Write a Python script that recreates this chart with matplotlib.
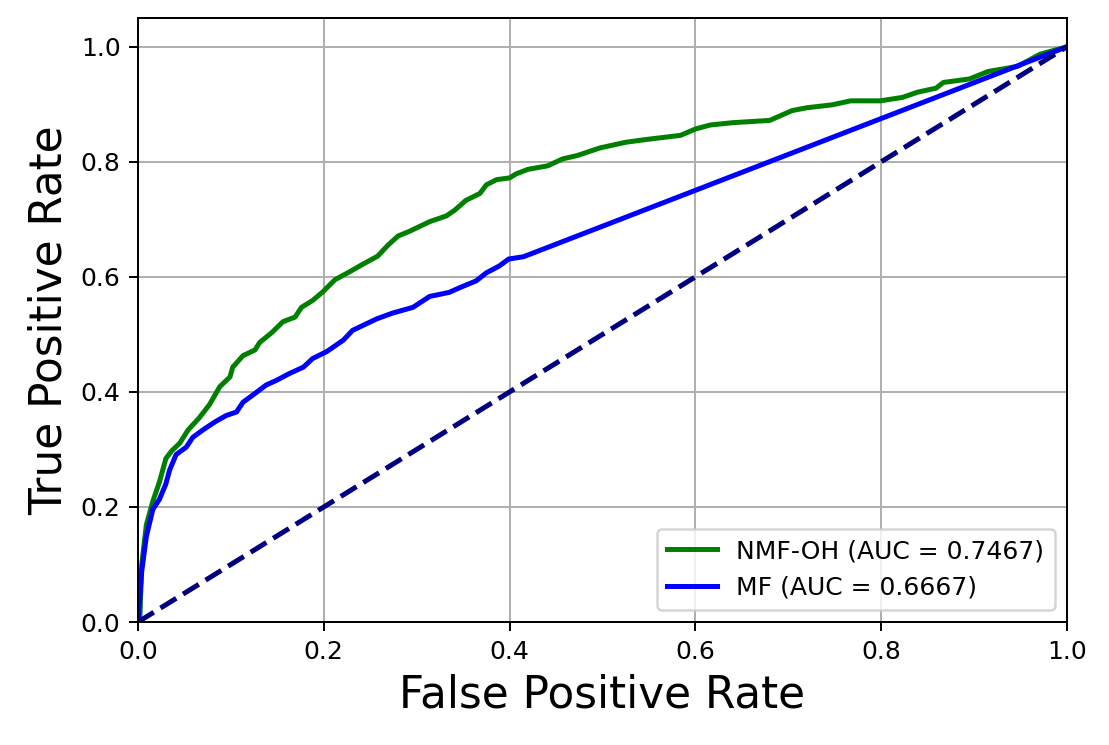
import numpy as np
import matplotlib
matplotlib.use("Agg")
import matplotlib.pyplot as plt

############################################################ DATA
# NMF-OH roc curve
fpr_nmf = [0.0, 0.002, 0.004, 0.009, 0.016, 0.023, 0.030, 0.036, 0.045, 0.054, 0.066,
           0.077, 0.088, 0.099, 0.102, 0.113, 0.126, 0.131, 0.144, 0.156, 0.169, 0.176,
           0.188, 0.199, 0.212, 0.228, 0.242, 0.258, 0.269, 0.280, 0.292, 0.314, 0.332,
           0.341, 0.353, 0.368, 0.375, 0.386, 0.400, 0.407, 0.420, 0.441, 0.457, 0.473,
           0.497, 0.525, 0.548, 0.584, 0.600, 0.616, 0.640, 0.680, 0.704, 0.720, 0.747,
           0.767, 0.799, 0.823, 0.839, 0.859, 0.867, 0.895, 0.915, 0.947, 0.971, 1.0]
tpr_nmf = [0.0, 0.007, 0.100, 0.169, 0.210, 0.243, 0.284, 0.297, 0.311, 0.334, 0.355,
           0.378, 0.409, 0.426, 0.443, 0.463, 0.473, 0.486, 0.503, 0.522, 0.530, 0.547,
           0.559, 0.574, 0.595, 0.609, 0.622, 0.636, 0.655, 0.671, 0.679, 0.696, 0.706,
           0.716, 0.733, 0.745, 0.760, 0.769, 0.772, 0.779, 0.787, 0.793, 0.805, 0.811,
           0.824, 0.834, 0.839, 0.846, 0.857, 0.864, 0.868, 0.872, 0.889, 0.894, 0.899,
           0.906, 0.906, 0.912, 0.921, 0.928, 0.938, 0.944, 0.957, 0.966, 0.987, 1.0]
# MF roc curve
fpr_mf = [0.0, 0.004, 0.009, 0.016, 0.023, 0.030, 0.034, 0.041, 0.052, 0.059, 0.070,
          0.083, 0.095, 0.106, 0.113, 0.124, 0.138, 0.149, 0.163, 0.178, 0.188, 0.203,
          0.213, 0.221, 0.231, 0.257, 0.274, 0.296, 0.314, 0.335, 0.346, 0.364, 0.375,
          0.389, 0.399, 0.415, 1.0]
tpr_mf = [0.0, 0.088, 0.149, 0.196, 0.213, 0.240, 0.264, 0.291, 0.304, 0.321, 0.334,
          0.348, 0.359, 0.365, 0.382, 0.395, 0.412, 0.420, 0.432, 0.443, 0.458, 0.470,
          0.481, 0.490, 0.507, 0.527, 0.537, 0.547, 0.566, 0.573, 0.581, 0.593, 0.607,
          0.619, 0.631, 0.635, 1.0]
auc_nmf = 0.7467
auc_mf = 0.6667
chance = [0, 1]

############################################################ PLOT
W, H, DPI = 1109, 745, 180
fig = plt.figure(figsize=(W / DPI, H / DPI), dpi=DPI)
ax = fig.add_axes([138 / W, (745 - 622) / H, (1067 - 138) / W, (622 - 18) / H])

ax.plot(fpr_nmf, tpr_nmf, color='green', lw=2, label='NMF-OH (AUC = %0.4f)' % auc_nmf)
ax.plot(fpr_mf, tpr_mf, color='blue', lw=2, label='MF (AUC = %0.4f)' % auc_mf)
ax.plot(chance, chance, color='navy', lw=2, linestyle='--')
ax.set_xlim([0.0, 1.0])
ax.set_ylim([0.0, 1.05])
ax.set_xlabel('False Positive Rate', fontsize=17.5)
ax.set_ylabel('True Positive Rate', fontsize=17.5)
ax.tick_params(labelsize=10)
ax.grid()
ax.legend(loc='lower right', fontsize=10)

fig.savefig('out.png', dpi=DPI)
